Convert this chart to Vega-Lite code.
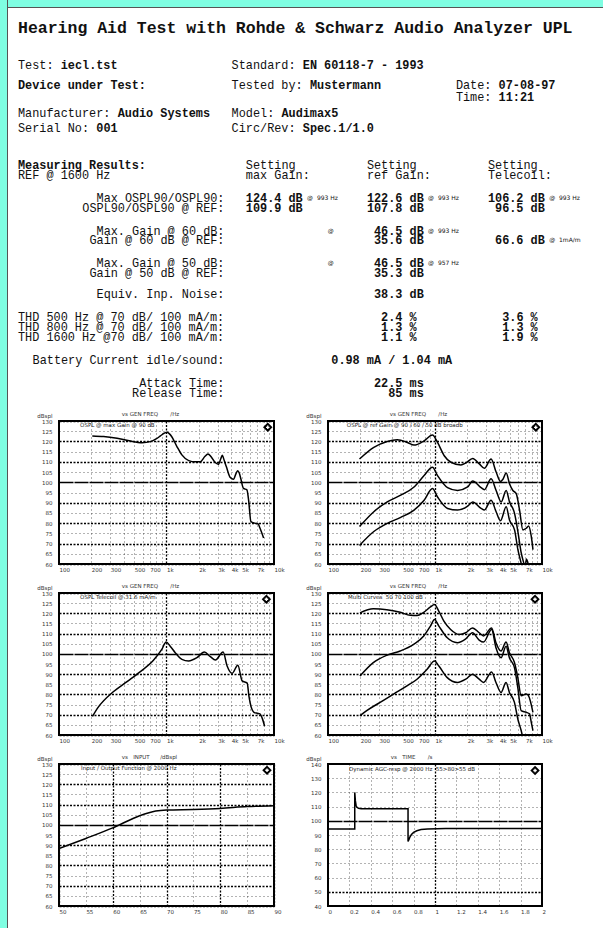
{
  "$schema": "https://vega.github.io/schema/vega-lite/v6.json",
  "background": "white",
  "padding": 0,
  "config": {
    "view": {"stroke": null},
    "axis": {"labelFont": "DejaVu Sans", "labelColor": "#333", "titleFont": "DejaVu Sans", "titleColor": "#333"},
    "title": {"font": "DejaVu Sans", "fontSize": 5.5, "fontWeight": "normal", "color": "#333"}
  },
  "datasets": {
    "report": [
      {"c": 0, "r": 2.8, "t": "Hearing Aid Test with Rohde & Schwarz Audio Analyzer UPL", "k": "heading"},
      {"c": 0, "r": 6.5, "t": "Test:", "k": "label"},
      {"c": 6, "r": 6.5, "t": "iecl.tst", "k": "strong"},
      {"c": 30, "r": 6.5, "t": "Standard:", "k": "label"},
      {"c": 40, "r": 6.5, "t": "EN 60118-7 - 1993", "k": "strong"},
      {"c": 0, "r": 8.5, "t": "Device under Test:", "k": "strong"},
      {"c": 30, "r": 8.5, "t": "Tested by:", "k": "label"},
      {"c": 41, "r": 8.5, "t": "Mustermann", "k": "strong"},
      {"c": 61.5, "r": 8.5, "t": "Date:", "k": "label"},
      {"c": 67.5, "r": 8.5, "t": "07-08-97", "k": "strong"},
      {"c": 61.5, "r": 9.7, "t": "Time:", "k": "label"},
      {"c": 67.5, "r": 9.7, "t": "11:21", "k": "strong"},
      {"c": 0, "r": 11.3, "t": "Manufacturer:", "k": "label"},
      {"c": 14, "r": 11.3, "t": "Audio Systems", "k": "strong"},
      {"c": 30, "r": 11.3, "t": "Model:", "k": "label"},
      {"c": 37, "r": 11.3, "t": "Audimax5", "k": "strong"},
      {"c": 0, "r": 12.8, "t": "Serial No:", "k": "label"},
      {"c": 11, "r": 12.8, "t": "001", "k": "strong"},
      {"c": 30, "r": 12.8, "t": "Circ/Rev:", "k": "label"},
      {"c": 40, "r": 12.8, "t": "Spec.1/1.0", "k": "strong"},
      {"c": 0, "r": 16.5, "t": "Measuring Results:", "k": "strong"},
      {"c": 32, "r": 16.5, "t": "Setting", "k": "label"},
      {"c": 49, "r": 16.5, "t": "Setting", "k": "label"},
      {"c": 66, "r": 16.5, "t": "Setting", "k": "label"},
      {"c": 0, "r": 17.5, "t": "REF @ 1600 Hz", "k": "label"},
      {"c": 32, "r": 17.5, "t": "max Gain:", "k": "label"},
      {"c": 49, "r": 17.5, "t": "ref Gain:", "k": "label"},
      {"c": 66, "r": 17.5, "t": "Telecoil:", "k": "label"},
      {"c": 29, "r": 19.8, "t": "Max OSPL90/OSPL90:", "k": "rlabel"},
      {"c": 32, "r": 19.8, "t": "124.4 dB", "k": "strong"},
      {"c": 40.6, "r": 19.8, "t": "@\u00a0\u00a0993 Hz", "k": "note"},
      {"c": 49, "r": 19.8, "t": "122.6 dB", "k": "strong"},
      {"c": 57.6, "r": 19.8, "t": "@\u00a0\u00a0993 Hz", "k": "note"},
      {"c": 66, "r": 19.8, "t": "106.2 dB", "k": "strong"},
      {"c": 74.6, "r": 19.8, "t": "@\u00a0\u00a0993 Hz", "k": "note"},
      {"c": 29, "r": 20.8, "t": "OSPL90/OSPL90 @ REF:", "k": "rlabel"},
      {"c": 32, "r": 20.8, "t": "109.9 dB", "k": "strong"},
      {"c": 49, "r": 20.8, "t": "107.8 dB", "k": "strong"},
      {"c": 67, "r": 20.8, "t": "96.5 dB", "k": "strong"},
      {"c": 29, "r": 23.1, "t": "Max. Gain @ 60 dB:", "k": "rlabel"},
      {"c": 43.5, "r": 23.1, "t": "@", "k": "note"},
      {"c": 50, "r": 23.1, "t": "46.5 dB", "k": "strong"},
      {"c": 57.6, "r": 23.1, "t": "@\u00a0\u00a0993 Hz", "k": "note"},
      {"c": 29, "r": 24.0, "t": "Gain @ 60 dB @ REF:", "k": "rlabel"},
      {"c": 50, "r": 24.0, "t": "35.6 dB", "k": "strong"},
      {"c": 67, "r": 24.0, "t": "66.6 dB", "k": "strong"},
      {"c": 74.6, "r": 24.0, "t": "@\u00a0\u00a01mA/m", "k": "note"},
      {"c": 29, "r": 26.3, "t": "Max. Gain @ 50 dB:", "k": "rlabel"},
      {"c": 43.5, "r": 26.3, "t": "@", "k": "note"},
      {"c": 50, "r": 26.3, "t": "46.5 dB", "k": "strong"},
      {"c": 57.6, "r": 26.3, "t": "@\u00a0\u00a0957 Hz", "k": "note"},
      {"c": 29, "r": 27.3, "t": "Gain @ 50 dB @ REF:", "k": "rlabel"},
      {"c": 50, "r": 27.3, "t": "35.3 dB", "k": "strong"},
      {"c": 29, "r": 29.4, "t": "Equiv. Inp. Noise:", "k": "rlabel"},
      {"c": 50, "r": 29.4, "t": "38.3 dB", "k": "strong"},
      {"c": 0, "r": 31.7, "t": "THD 500 Hz @ 70 dB/ 100 mA/m:", "k": "label"},
      {"c": 51, "r": 31.7, "t": "2.4 %", "k": "strong"},
      {"c": 68, "r": 31.7, "t": "3.6 %", "k": "strong"},
      {"c": 0, "r": 32.7, "t": "THD 800 Hz @ 70 dB/ 100 mA/m:", "k": "label"},
      {"c": 51, "r": 32.7, "t": "1.3 %", "k": "strong"},
      {"c": 68, "r": 32.7, "t": "1.3 %", "k": "strong"},
      {"c": 0, "r": 33.7, "t": "THD 1600 Hz @70 dB/ 100 mA/m:", "k": "label"},
      {"c": 51, "r": 33.7, "t": "1.1 %", "k": "strong"},
      {"c": 68, "r": 33.7, "t": "1.9 %", "k": "strong"},
      {"c": 29, "r": 36.0, "t": "Battery Current idle/sound:", "k": "rlabel"},
      {"c": 44, "r": 36.0, "t": "0.98 mA / 1.04 mA", "k": "strong"},
      {"c": 29, "r": 38.3, "t": "Attack Time:", "k": "rlabel"},
      {"c": 50, "r": 38.3, "t": "22.5 ms", "k": "strong"},
      {"c": 29, "r": 39.3, "t": "Release Time:", "k": "rlabel"},
      {"c": 52, "r": 39.3, "t": "85 ms", "k": "strong"}
    ],
    "c1": [
      {"f": 204, "v": 122.7, "s": "a"}, {"f": 260, "v": 122.4, "s": "a"}, {"f": 347, "v": 121.5, "s": "a"}, {"f": 450, "v": 120.3, "s": "a"},
      {"f": 593, "v": 119.4, "s": "a"}, {"f": 707, "v": 119.9, "s": "a"}, {"f": 800, "v": 121.2, "s": "a"}, {"f": 877, "v": 122.7, "s": "a"},
      {"f": 950, "v": 124, "s": "a"}, {"f": 1011, "v": 124.5, "s": "a"}, {"f": 1060, "v": 123.8, "s": "a"}, {"f": 1120, "v": 122.3, "s": "a"},
      {"f": 1250, "v": 117.5, "s": "a"}, {"f": 1390, "v": 113.4, "s": "a"}, {"f": 1610, "v": 110.6, "s": "a"}, {"f": 1850, "v": 110, "s": "a"},
      {"f": 2070, "v": 110.1, "s": "a"}, {"f": 2270, "v": 112.6, "s": "a"}, {"f": 2430, "v": 113.9, "s": "a"}, {"f": 2600, "v": 112.5, "s": "a"},
      {"f": 2800, "v": 110, "s": "a"}, {"f": 3030, "v": 108.8, "s": "a"}, {"f": 3200, "v": 111.5, "s": "a"}, {"f": 3300, "v": 113.2, "s": "a"},
      {"f": 3450, "v": 110.5, "s": "a"}, {"f": 3600, "v": 107.7, "s": "a"}, {"f": 3900, "v": 102.5, "s": "a"}, {"f": 4200, "v": 101.5, "s": "a"},
      {"f": 4450, "v": 104.5, "s": "a"}, {"f": 4600, "v": 105.7, "s": "a"}, {"f": 4750, "v": 104.5, "s": "a"}, {"f": 4900, "v": 102, "s": "a"},
      {"f": 5200, "v": 97, "s": "a"}, {"f": 5600, "v": 96.3, "s": "a"}, {"f": 5800, "v": 91.4, "s": "a"}, {"f": 6100, "v": 80.8, "s": "a"},
      {"f": 6600, "v": 80, "s": "a"}, {"f": 7100, "v": 79.7, "s": "a"}, {"f": 7400, "v": 77.6, "s": "a"}, {"f": 8000, "v": 72.7, "s": "a"}
    ],
    "c2": [
      {"f": 197, "v": 111.4, "s": "a"}, {"f": 268, "v": 117.1, "s": "a"}, {"f": 358, "v": 120, "s": "a"}, {"f": 444, "v": 120.8, "s": "a"},
      {"f": 552, "v": 119.5, "s": "a"}, {"f": 637, "v": 118.2, "s": "a"}, {"f": 791, "v": 120.3, "s": "a"}, {"f": 947, "v": 123.1, "s": "a"},
      {"f": 1056, "v": 119.5, "s": "a"}, {"f": 1220, "v": 113, "s": "a"}, {"f": 1408, "v": 109.8, "s": "a"}, {"f": 1748, "v": 108.5, "s": "a"},
      {"f": 1948, "v": 109.5, "s": "a"}, {"f": 2250, "v": 111.7, "s": "a"}, {"f": 2598, "v": 109, "s": "a"}, {"f": 2895, "v": 106.9, "s": "a"},
      {"f": 3344, "v": 111.4, "s": "a"}, {"f": 3726, "v": 105, "s": "a"}, {"f": 4093, "v": 100.4, "s": "a"}, {"f": 4303, "v": 101.4, "s": "a"},
      {"f": 4626, "v": 104.5, "s": "a"}, {"f": 4970, "v": 99.3, "s": "a"}, {"f": 5342, "v": 96, "s": "a"}, {"f": 5741, "v": 94.5, "s": "a"},
      {"f": 6170, "v": 86.4, "s": "a"}, {"f": 6630, "v": 76.7, "s": "a"}, {"f": 7128, "v": 77.5, "s": "a"}, {"f": 7494, "v": 78.6, "s": "a"},
      {"f": 7940, "v": 73.5, "s": "a"}, {"f": 8233, "v": 67, "s": "a"},
      {"f": 197, "v": 78.3, "s": "b"}, {"f": 268, "v": 85.6, "s": "b"}, {"f": 358, "v": 90.4, "s": "b"}, {"f": 478, "v": 93.7, "s": "b"},
      {"f": 637, "v": 97.7, "s": "b"}, {"f": 791, "v": 103.3, "s": "b"}, {"f": 947, "v": 107.4, "s": "b"}, {"f": 1056, "v": 103.3, "s": "b"},
      {"f": 1310, "v": 97.4, "s": "b"}, {"f": 1627, "v": 96, "s": "b"}, {"f": 2020, "v": 97.7, "s": "b"}, {"f": 2250, "v": 100.6, "s": "b"},
      {"f": 2695, "v": 97.4, "s": "b"}, {"f": 2895, "v": 96.4, "s": "b"}, {"f": 3344, "v": 101.7, "s": "b"}, {"f": 3726, "v": 96, "s": "b"},
      {"f": 4152, "v": 90.4, "s": "b"}, {"f": 4626, "v": 96, "s": "b"}, {"f": 4970, "v": 90.4, "s": "b"}, {"f": 5538, "v": 84.8, "s": "b"},
      {"f": 5952, "v": 75.9, "s": "b"}, {"f": 6397, "v": 65.4, "s": "b"}, {"f": 6776, "v": 60.2, "s": "b"}, {"f": 6950, "v": 58, "s": "b"},
      {"f": 7150, "v": 62.5, "s": "b"}, {"f": 7350, "v": 61, "s": "b"}, {"f": 7550, "v": 58, "s": "b"},
      {"f": 197, "v": 69.1, "s": "c"}, {"f": 268, "v": 75.9, "s": "c"}, {"f": 358, "v": 79.9, "s": "c"}, {"f": 478, "v": 82.8, "s": "c"},
      {"f": 637, "v": 86.4, "s": "c"}, {"f": 791, "v": 91.2, "s": "c"}, {"f": 947, "v": 96.9, "s": "c"}, {"f": 1056, "v": 92.8, "s": "c"},
      {"f": 1310, "v": 87.2, "s": "c"}, {"f": 1627, "v": 86.4, "s": "c"}, {"f": 2020, "v": 88.3, "s": "c"}, {"f": 2250, "v": 90.4, "s": "c"},
      {"f": 2695, "v": 87.2, "s": "c"}, {"f": 2895, "v": 86.4, "s": "c"}, {"f": 3344, "v": 91.2, "s": "c"}, {"f": 3726, "v": 85.6, "s": "c"},
      {"f": 4093, "v": 81.2, "s": "c"}, {"f": 4626, "v": 88, "s": "c"}, {"f": 4970, "v": 81.5, "s": "c"}, {"f": 5538, "v": 76.7, "s": "c"},
      {"f": 5952, "v": 67, "s": "c"}, {"f": 6397, "v": 60.2, "s": "c"}, {"f": 6600, "v": 57, "s": "c"}
    ],
    "c3": [
      {"f": 205, "v": 69.2, "s": "a"}, {"f": 231, "v": 73.6, "s": "a"}, {"f": 320, "v": 81.3, "s": "a"}, {"f": 426, "v": 86.2, "s": "a"},
      {"f": 567, "v": 91.1, "s": "a"}, {"f": 756, "v": 96.8, "s": "a"}, {"f": 904, "v": 102.2, "s": "a"}, {"f": 993, "v": 105.8, "s": "a"},
      {"f": 1082, "v": 103.8, "s": "a"}, {"f": 1205, "v": 100.6, "s": "a"}, {"f": 1391, "v": 97.3, "s": "a"}, {"f": 1605, "v": 96.5, "s": "a"},
      {"f": 1920, "v": 98.1, "s": "a"}, {"f": 2249, "v": 100.9, "s": "a"}, {"f": 2559, "v": 98.6, "s": "a"}, {"f": 2850, "v": 97, "s": "a"},
      {"f": 3361, "v": 100.9, "s": "a"}, {"f": 3664, "v": 94, "s": "a"}, {"f": 4079, "v": 90.4, "s": "a"}, {"f": 4608, "v": 94.4, "s": "a"},
      {"f": 5058, "v": 86.7, "s": "a"}, {"f": 5633, "v": 85.6, "s": "a"}, {"f": 5839, "v": 79.3, "s": "a"}, {"f": 6503, "v": 71.2, "s": "a"},
      {"f": 6986, "v": 70.7, "s": "a"}, {"f": 7400, "v": 70.4, "s": "a"}, {"f": 7780, "v": 68.2, "s": "a"}, {"f": 8180, "v": 64.3, "s": "a"}
    ],
    "c4": [
      {"f": 199, "v": 120.2, "s": "a"}, {"f": 265, "v": 122.2, "s": "a"}, {"f": 354, "v": 121.8, "s": "a"}, {"f": 473, "v": 120.5, "s": "a"},
      {"f": 588, "v": 119, "s": "a"}, {"f": 679, "v": 118.9, "s": "a"}, {"f": 785, "v": 120.5, "s": "a"}, {"f": 907, "v": 123.1, "s": "a"},
      {"f": 989, "v": 124.3, "s": "a"}, {"f": 1087, "v": 121, "s": "a"}, {"f": 1211, "v": 116.1, "s": "a"}, {"f": 1400, "v": 112, "s": "a"},
      {"f": 1677, "v": 109.6, "s": "a"}, {"f": 1938, "v": 110.4, "s": "a"}, {"f": 2239, "v": 112.8, "s": "a"}, {"f": 2587, "v": 110.4, "s": "a"},
      {"f": 2842, "v": 108.8, "s": "a"}, {"f": 3381, "v": 112.8, "s": "a"}, {"f": 3714, "v": 105.5, "s": "a"}, {"f": 4140, "v": 101.4, "s": "a"},
      {"f": 4614, "v": 105.8, "s": "a"}, {"f": 4959, "v": 100.6, "s": "a"}, {"f": 5527, "v": 95.7, "s": "a"}, {"f": 5941, "v": 88.3, "s": "a"},
      {"f": 6386, "v": 79.3, "s": "a"}, {"f": 7118, "v": 80.2, "s": "a"}, {"f": 7487, "v": 79.3, "s": "a"}, {"f": 8228, "v": 71.2, "s": "a"},
      {"f": 199, "v": 89.1, "s": "b"}, {"f": 265, "v": 95.7, "s": "b"}, {"f": 354, "v": 99.3, "s": "b"}, {"f": 473, "v": 101.4, "s": "b"},
      {"f": 632, "v": 104.7, "s": "b"}, {"f": 785, "v": 108.8, "s": "b"}, {"f": 907, "v": 113.7, "s": "b"}, {"f": 989, "v": 116.9, "s": "b"},
      {"f": 1087, "v": 113.7, "s": "b"}, {"f": 1302, "v": 107.9, "s": "b"}, {"f": 1618, "v": 105.5, "s": "b"}, {"f": 1938, "v": 107.4, "s": "b"},
      {"f": 2239, "v": 110.4, "s": "b"}, {"f": 2587, "v": 106.8, "s": "b"}, {"f": 2842, "v": 105.8, "s": "b"}, {"f": 3381, "v": 112, "s": "b"},
      {"f": 3714, "v": 103, "s": "b"}, {"f": 4140, "v": 98.1, "s": "b"}, {"f": 4614, "v": 103.8, "s": "b"}, {"f": 4959, "v": 98.1, "s": "b"},
      {"f": 5527, "v": 93.2, "s": "b"}, {"f": 5941, "v": 83.4, "s": "b"}, {"f": 6386, "v": 72, "s": "b"}, {"f": 7118, "v": 71.2, "s": "b"},
      {"f": 7652, "v": 70.4, "s": "b"}, {"f": 7934, "v": 66.3, "s": "b"}, {"f": 8228, "v": 62.2, "s": "b"},
      {"f": 199, "v": 69.5, "s": "c"}, {"f": 230, "v": 72, "s": "c"}, {"f": 307, "v": 76.1, "s": "c"}, {"f": 410, "v": 80.2, "s": "c"},
      {"f": 547, "v": 84.2, "s": "c"}, {"f": 679, "v": 87.5, "s": "c"}, {"f": 844, "v": 92.4, "s": "c"}, {"f": 989, "v": 96.5, "s": "c"},
      {"f": 1087, "v": 94, "s": "c"}, {"f": 1302, "v": 88.3, "s": "c"}, {"f": 1618, "v": 85.9, "s": "c"}, {"f": 1938, "v": 87.5, "s": "c"},
      {"f": 2239, "v": 90, "s": "c"}, {"f": 2587, "v": 87.5, "s": "c"}, {"f": 2842, "v": 85.9, "s": "c"}, {"f": 3381, "v": 91.1, "s": "c"},
      {"f": 3714, "v": 85.9, "s": "c"}, {"f": 4140, "v": 81, "s": "c"}, {"f": 4614, "v": 85.9, "s": "c"}, {"f": 4959, "v": 81, "s": "c"},
      {"f": 5527, "v": 76.1, "s": "c"}, {"f": 5941, "v": 67.9, "s": "c"}, {"f": 6386, "v": 62.2, "s": "c"}, {"f": 6600, "v": 59, "s": "c"}
    ],
    "c5": [
      {"f": 50, "v": 88.3}, {"f": 55, "v": 93.3}, {"f": 60, "v": 98.5}, {"f": 65, "v": 104.5}, {"f": 68, "v": 106.8},
      {"f": 70, "v": 107.3}, {"f": 75, "v": 107.6}, {"f": 80, "v": 108.1}, {"f": 85, "v": 109}, {"f": 90, "v": 109.4}
    ],
    "c6": [
      {"f": 0, "v": 94.3}, {"f": 0.25, "v": 94.3}, {"f": 0.25, "v": 120}, {"f": 0.256, "v": 114}, {"f": 0.262, "v": 111},
      {"f": 0.27, "v": 109.5}, {"f": 0.285, "v": 108.8}, {"f": 0.31, "v": 108.5}, {"f": 0.748, "v": 108.5}, {"f": 0.748, "v": 85.5},
      {"f": 0.755, "v": 86.5}, {"f": 0.765, "v": 88.5}, {"f": 0.78, "v": 90.3}, {"f": 0.8, "v": 91.8}, {"f": 0.83, "v": 93},
      {"f": 0.87, "v": 93.8}, {"f": 0.93, "v": 94.2}, {"f": 1.1, "v": 94.5}, {"f": 2, "v": 94.5}
    ]
  },
  "spacing": 0,
  "hconcat": [
    {
      "spacing": 0,
      "hconcat": [
        {"width": 7, "height": 928, "view": {"fill": "#7ffee2", "stroke": null}, "data": {"values": []}, "mark": "point", "encoding": {}},
        {"width": 1, "height": 928, "view": {"fill": "#555555", "stroke": null}, "data": {"values": []}, "mark": "point", "encoding": {}}
      ]
    },
    {
      "spacing": 0,
      "vconcat": [
        {
          "spacing": 0,
          "vconcat": [
            {"width": 595, "height": 7, "view": {"fill": "#7ffee2", "stroke": null}, "data": {"values": []}, "mark": "point", "encoding": {}},
            {"width": 595, "height": 1, "view": {"fill": "#555555", "stroke": null}, "data": {"values": []}, "mark": "point", "encoding": {}}
          ]
        },
        {
          "columns": 2,
          "spacing": {"row": 29, "column": 3},
          "bounds": "flush",
          "center": true,
          "concat": [
            {
              "width": 317, "height": 384,
              "view": {"fill": "white", "stroke": null},
              "data": {"name": "report"},
              "encoding": {
                "x": {"field": "c", "type": "quantitative", "scale": {"domain": [-1.404, 43.118], "nice": false, "zero": false}, "axis": null},
                "y": {"field": "r", "type": "quantitative", "scale": {"domain": [0.8, 39.2], "nice": false, "zero": false, "reverse": true}, "axis": null},
                "text": {"field": "t"}
              },
              "layer": [
                {"transform": [{"filter": "datum.k === 'heading'"}], "mark": {"type": "text", "align": "left", "baseline": "middle", "font": "Liberation Mono", "fontSize": 16.5, "fontWeight": "bold", "color": "#111"}},
                {"transform": [{"filter": "datum.k === 'label'"}], "mark": {"type": "text", "align": "left", "baseline": "middle", "font": "Liberation Mono", "fontSize": 11.85, "fontWeight": "normal", "color": "#111"}},
                {"transform": [{"filter": "datum.k === 'strong'"}], "mark": {"type": "text", "align": "left", "baseline": "middle", "font": "Liberation Mono", "fontSize": 11.85, "fontWeight": "bold", "color": "#111"}},
                {"transform": [{"filter": "datum.k === 'rlabel'"}], "mark": {"type": "text", "align": "right", "baseline": "middle", "font": "Liberation Mono", "fontSize": 11.85, "fontWeight": "normal", "color": "#111"}},
                {"transform": [{"filter": "datum.k === 'note'"}], "mark": {"type": "text", "align": "left", "baseline": "middle", "font": "DejaVu Sans", "fontSize": 6, "fontWeight": "normal", "color": "#111"}}
              ]
            },
            {"width": 214, "height": 384, "data": {"values": []}, "mark": "point", "encoding": {}},
            {
              "width": 215, "height": 143,
              "view": {"stroke": "#000", "strokeWidth": 2},
              "title": {"text": "vs GEN FREQ\u00a0\u00a0\u00a0\u00a0\u00a0\u00a0\u00a0/Hz", "anchor": "start", "dx": 85, "offset": -4},
              "resolve": {"axis": {"x": "independent", "y": "independent"}},
              "layer": [
                {
                  "data": {"name": "c1"},
                  "mark": {"type": "line", "color": "#000", "strokeWidth": 1.5, "interpolate": "monotone", "clip": true},
                  "encoding": {
                    "x": {"field": "f", "type": "quantitative", "scale": {"type": "log", "domain": [100, 10000], "nice": false},
                      "axis": {"values": [100, 200, 300, 400, 500, 600, 700, 800, 900, 1000, 2000, 3000, 4000, 5000, 6000, 7000, 8000, 9000, 10000],
                        "labelExpr": "indexof([100,200,300,500,700,1000,2000,3000,4000,5000,7000,10000], datum.value) >= 0 ? (datum.value >= 1000 ? (datum.value / 1000) + 'k' : '' + datum.value) : ''",
                        "title": null, "grid": true, "ticks": false, "domain": false, "labelAlign": "left", "labelFlush": false, "labelOverlap": false, "labelPadding": 3, "labelFontSize": 5.5,
                        "gridColor": "#000", "gridOpacity": 1,
                        "gridDash": {"condition": {"test": "datum.value === 1000", "value": [2, 1.5]}, "value": [1, 3]},
                        "gridWidth": {"condition": {"test": "datum.value === 1000", "value": 1.3}, "value": 0.6}}},
                    "y": {"field": "v", "type": "quantitative", "scale": {"domain": [60, 130], "nice": false, "zero": false},
                      "axis": {"values": [60, 65, 70, 75, 80, 85, 90, 95, 100, 105, 110, 115, 120, 125, 130],
                        "title": "dBspl", "titleAngle": 0, "titleAlign": "right", "titleBaseline": "middle", "titleX": -7, "titleY": -6, "titleFontSize": 5.5, "titleFontWeight": "normal",
                        "grid": true, "ticks": false, "domain": false, "labelPadding": 7, "labelFontSize": 5.5, "labelFlush": false, "labelOverlap": false,
                        "gridColor": "#000", "gridOpacity": 1,
                        "gridDash": {"condition": [{"test": "datum.value === 100", "value": [14, 1]}, {"test": "datum.value % 10 === 0", "value": [2, 1.5]}], "value": [1, 3]},
                        "gridWidth": {"condition": [{"test": "datum.value === 100", "value": 1.6}, {"test": "datum.value % 10 === 0", "value": 1.3}], "value": 0.6}}},
                    "detail": {"field": "s"}
                  }
                },
                {"data": {"values": [{}]}, "mark": {"type": "text", "align": "left", "baseline": "middle", "fontSize": 5.5, "font": "DejaVu Sans", "color": "#222"},
                  "encoding": {"x": {"datum": 157, "axis": null}, "y": {"datum": 127.8, "axis": null}, "text": {"value": "OSPL @ max Gain @ 90 dB"}}},
                {"data": {"values": [{}]}, "mark": {"type": "point", "shape": "diamond", "filled": true, "color": "#000", "size": 90, "opacity": 1},
                  "encoding": {"x": {"datum": 8750, "axis": null}, "y": {"datum": 126.9, "axis": null}}},
                {"data": {"values": [{}]}, "mark": {"type": "point", "shape": "cross", "filled": true, "color": "#fff", "size": 12, "opacity": 1},
                  "encoding": {"x": {"datum": 8750, "axis": null}, "y": {"datum": 126.9, "axis": null}}}
              ]
            },
            {
              "width": 214, "height": 143,
              "view": {"stroke": "#000", "strokeWidth": 2},
              "title": {"text": "vs GEN FREQ\u00a0\u00a0\u00a0\u00a0\u00a0\u00a0\u00a0/Hz", "anchor": "start", "dx": 84, "offset": -4},
              "resolve": {"axis": {"x": "independent", "y": "independent"}},
              "layer": [
                {
                  "data": {"name": "c2"},
                  "mark": {"type": "line", "color": "#000", "strokeWidth": 1.5, "interpolate": "monotone", "clip": true},
                  "encoding": {
                    "x": {"field": "f", "type": "quantitative", "scale": {"type": "log", "domain": [100, 10000], "nice": false},
                      "axis": {"values": [100, 200, 300, 400, 500, 600, 700, 800, 900, 1000, 2000, 3000, 4000, 5000, 6000, 7000, 8000, 9000, 10000],
                        "labelExpr": "indexof([100,200,300,500,700,1000,2000,3000,4000,5000,7000,10000], datum.value) >= 0 ? (datum.value >= 1000 ? (datum.value / 1000) + 'k' : '' + datum.value) : ''",
                        "title": null, "grid": true, "ticks": false, "domain": false, "labelAlign": "left", "labelFlush": false, "labelOverlap": false, "labelPadding": 3, "labelFontSize": 5.5,
                        "gridColor": "#000", "gridOpacity": 1,
                        "gridDash": {"condition": {"test": "datum.value === 1000", "value": [2, 1.5]}, "value": [1, 3]},
                        "gridWidth": {"condition": {"test": "datum.value === 1000", "value": 1.3}, "value": 0.6}}},
                    "y": {"field": "v", "type": "quantitative", "scale": {"domain": [60, 130], "nice": false, "zero": false},
                      "axis": {"values": [60, 65, 70, 75, 80, 85, 90, 95, 100, 105, 110, 115, 120, 125, 130],
                        "title": "dBspl", "titleAngle": 0, "titleAlign": "right", "titleBaseline": "middle", "titleX": -7, "titleY": -6, "titleFontSize": 5.5, "titleFontWeight": "normal",
                        "grid": true, "ticks": false, "domain": false, "labelPadding": 7, "labelFontSize": 5.5, "labelFlush": false, "labelOverlap": false,
                        "gridColor": "#000", "gridOpacity": 1,
                        "gridDash": {"condition": [{"test": "datum.value === 100", "value": [14, 1]}, {"test": "datum.value % 10 === 0", "value": [2, 1.5]}], "value": [1, 3]},
                        "gridWidth": {"condition": [{"test": "datum.value === 100", "value": 1.6}, {"test": "datum.value % 10 === 0", "value": 1.3}], "value": 0.6}}},
                    "detail": {"field": "s"}
                  }
                },
                {"data": {"values": [{}]}, "mark": {"type": "text", "align": "left", "baseline": "middle", "fontSize": 5.5, "font": "DejaVu Sans", "color": "#222"},
                  "encoding": {"x": {"datum": 150, "axis": null}, "y": {"datum": 127.8, "axis": null}, "text": {"value": "OSPL @ ref Gain @ 90 / 60 / 50 dB broadb"}}},
                {"data": {"values": [{}]}, "mark": {"type": "point", "shape": "diamond", "filled": true, "color": "#000", "size": 90, "opacity": 1},
                  "encoding": {"x": {"datum": 8750, "axis": null}, "y": {"datum": 126.9, "axis": null}}},
                {"data": {"values": [{}]}, "mark": {"type": "point", "shape": "cross", "filled": true, "color": "#fff", "size": 12, "opacity": 1},
                  "encoding": {"x": {"datum": 8750, "axis": null}, "y": {"datum": 126.9, "axis": null}}}
              ]
            },
            {
              "width": 215, "height": 142,
              "view": {"stroke": "#000", "strokeWidth": 2},
              "title": {"text": "vs GEN FREQ\u00a0\u00a0\u00a0\u00a0\u00a0\u00a0\u00a0/Hz", "anchor": "start", "dx": 85, "offset": -4},
              "resolve": {"axis": {"x": "independent", "y": "independent"}},
              "layer": [
                {
                  "data": {"name": "c3"},
                  "mark": {"type": "line", "color": "#000", "strokeWidth": 1.5, "interpolate": "monotone", "clip": true},
                  "encoding": {
                    "x": {"field": "f", "type": "quantitative", "scale": {"type": "log", "domain": [100, 10000], "nice": false},
                      "axis": {"values": [100, 200, 300, 400, 500, 600, 700, 800, 900, 1000, 2000, 3000, 4000, 5000, 6000, 7000, 8000, 9000, 10000],
                        "labelExpr": "indexof([100,200,300,500,700,1000,2000,3000,4000,5000,7000,10000], datum.value) >= 0 ? (datum.value >= 1000 ? (datum.value / 1000) + 'k' : '' + datum.value) : ''",
                        "title": null, "grid": true, "ticks": false, "domain": false, "labelAlign": "left", "labelFlush": false, "labelOverlap": false, "labelPadding": 3, "labelFontSize": 5.5,
                        "gridColor": "#000", "gridOpacity": 1,
                        "gridDash": {"condition": {"test": "datum.value === 1000", "value": [2, 1.5]}, "value": [1, 3]},
                        "gridWidth": {"condition": {"test": "datum.value === 1000", "value": 1.3}, "value": 0.6}}},
                    "y": {"field": "v", "type": "quantitative", "scale": {"domain": [60, 130], "nice": false, "zero": false},
                      "axis": {"values": [60, 65, 70, 75, 80, 85, 90, 95, 100, 105, 110, 115, 120, 125, 130],
                        "title": "dBspl", "titleAngle": 0, "titleAlign": "right", "titleBaseline": "middle", "titleX": -7, "titleY": -6, "titleFontSize": 5.5, "titleFontWeight": "normal",
                        "grid": true, "ticks": false, "domain": false, "labelPadding": 7, "labelFontSize": 5.5, "labelFlush": false, "labelOverlap": false,
                        "gridColor": "#000", "gridOpacity": 1,
                        "gridDash": {"condition": [{"test": "datum.value === 100", "value": [14, 1]}, {"test": "datum.value % 10 === 0", "value": [2, 1.5]}], "value": [1, 3]},
                        "gridWidth": {"condition": [{"test": "datum.value === 100", "value": 1.6}, {"test": "datum.value % 10 === 0", "value": 1.3}], "value": 0.6}}},
                    "detail": {"field": "s"}
                  }
                },
                {"data": {"values": [{}]}, "mark": {"type": "text", "align": "left", "baseline": "middle", "fontSize": 5.5, "font": "DejaVu Sans", "color": "#222"},
                  "encoding": {"x": {"datum": 157, "axis": null}, "y": {"datum": 127.8, "axis": null}, "text": {"value": "OSPL Telecoil @ 31.6 mA/m"}}},
                {"data": {"values": [{}]}, "mark": {"type": "point", "shape": "diamond", "filled": true, "color": "#000", "size": 90, "opacity": 1},
                  "encoding": {"x": {"datum": 8500, "axis": null}, "y": {"datum": 126.9, "axis": null}}},
                {"data": {"values": [{}]}, "mark": {"type": "point", "shape": "cross", "filled": true, "color": "#fff", "size": 12, "opacity": 1},
                  "encoding": {"x": {"datum": 8500, "axis": null}, "y": {"datum": 126.9, "axis": null}}}
              ]
            },
            {
              "width": 214, "height": 142,
              "view": {"stroke": "#000", "strokeWidth": 2},
              "title": {"text": "vs GEN FREQ\u00a0\u00a0\u00a0\u00a0\u00a0\u00a0\u00a0/Hz", "anchor": "start", "dx": 84, "offset": -4},
              "resolve": {"axis": {"x": "independent", "y": "independent"}},
              "layer": [
                {
                  "data": {"name": "c4"},
                  "mark": {"type": "line", "color": "#000", "strokeWidth": 1.5, "interpolate": "monotone", "clip": true},
                  "encoding": {
                    "x": {"field": "f", "type": "quantitative", "scale": {"type": "log", "domain": [100, 10000], "nice": false},
                      "axis": {"values": [100, 200, 300, 400, 500, 600, 700, 800, 900, 1000, 2000, 3000, 4000, 5000, 6000, 7000, 8000, 9000, 10000],
                        "labelExpr": "indexof([100,200,300,500,700,1000,2000,3000,4000,5000,7000,10000], datum.value) >= 0 ? (datum.value >= 1000 ? (datum.value / 1000) + 'k' : '' + datum.value) : ''",
                        "title": null, "grid": true, "ticks": false, "domain": false, "labelAlign": "left", "labelFlush": false, "labelOverlap": false, "labelPadding": 3, "labelFontSize": 5.5,
                        "gridColor": "#000", "gridOpacity": 1,
                        "gridDash": {"condition": {"test": "datum.value === 1000", "value": [2, 1.5]}, "value": [1, 3]},
                        "gridWidth": {"condition": {"test": "datum.value === 1000", "value": 1.3}, "value": 0.6}}},
                    "y": {"field": "v", "type": "quantitative", "scale": {"domain": [60, 130], "nice": false, "zero": false},
                      "axis": {"values": [60, 65, 70, 75, 80, 85, 90, 95, 100, 105, 110, 115, 120, 125, 130],
                        "title": "dBspl", "titleAngle": 0, "titleAlign": "right", "titleBaseline": "middle", "titleX": -7, "titleY": -6, "titleFontSize": 5.5, "titleFontWeight": "normal",
                        "grid": true, "ticks": false, "domain": false, "labelPadding": 7, "labelFontSize": 5.5, "labelFlush": false, "labelOverlap": false,
                        "gridColor": "#000", "gridOpacity": 1,
                        "gridDash": {"condition": [{"test": "datum.value === 100", "value": [14, 1]}, {"test": "datum.value % 10 === 0", "value": [2, 1.5]}], "value": [1, 3]},
                        "gridWidth": {"condition": [{"test": "datum.value === 100", "value": 1.6}, {"test": "datum.value % 10 === 0", "value": 1.3}], "value": 0.6}}},
                    "detail": {"field": "s"}
                  }
                },
                {"data": {"values": [{}]}, "mark": {"type": "text", "align": "left", "baseline": "middle", "fontSize": 5.5, "font": "DejaVu Sans", "color": "#222"},
                  "encoding": {"x": {"datum": 154, "axis": null}, "y": {"datum": 127.8, "axis": null}, "text": {"value": "Multi Curves\u00a0\u00a050 70 100 dB"}}},
                {"data": {"values": [{}]}, "mark": {"type": "point", "shape": "diamond", "filled": true, "color": "#000", "size": 90, "opacity": 1},
                  "encoding": {"x": {"datum": 8600, "axis": null}, "y": {"datum": 126.9, "axis": null}}},
                {"data": {"values": [{}]}, "mark": {"type": "point", "shape": "cross", "filled": true, "color": "#fff", "size": 12, "opacity": 1},
                  "encoding": {"x": {"datum": 8600, "axis": null}, "y": {"datum": 126.9, "axis": null}}}
              ]
            },
            {
              "width": 215, "height": 142,
              "view": {"stroke": "#000", "strokeWidth": 2},
              "title": {"text": "vs\u00a0\u00a0\u00a0INPUT\u00a0\u00a0\u00a0\u00a0\u00a0\u00a0/dBspl", "anchor": "start", "dx": 85, "offset": -4},
              "resolve": {"axis": {"x": "independent", "y": "independent"}},
              "layer": [
                {
                  "data": {"name": "c5"},
                  "mark": {"type": "line", "color": "#000", "strokeWidth": 1.5, "interpolate": "monotone", "clip": true},
                  "encoding": {
                    "x": {"field": "f", "type": "quantitative", "scale": {"domain": [50, 90], "nice": false, "zero": false},
                      "axis": {"values": [50, 55, 60, 65, 70, 75, 80, 85, 90],
                        "title": null, "grid": true, "ticks": false, "domain": false, "labelAlign": "left", "labelFlush": false, "labelOverlap": false, "labelPadding": 3, "labelFontSize": 5.5,
                        "gridColor": "#000", "gridOpacity": 1,
                        "gridDash": {"condition": {"test": "datum.value % 10 === 0", "value": [2, 1.5]}, "value": [1, 3]},
                        "gridWidth": {"condition": {"test": "datum.value % 10 === 0", "value": 1.3}, "value": 0.6}}},
                    "y": {"field": "v", "type": "quantitative", "scale": {"domain": [60, 130], "nice": false, "zero": false},
                      "axis": {"values": [60, 65, 70, 75, 80, 85, 90, 95, 100, 105, 110, 115, 120, 125, 130],
                        "title": "dBspl", "titleAngle": 0, "titleAlign": "right", "titleBaseline": "middle", "titleX": -7, "titleY": -6, "titleFontSize": 5.5, "titleFontWeight": "normal",
                        "grid": true, "ticks": false, "domain": false, "labelPadding": 7, "labelFontSize": 5.5, "labelFlush": false, "labelOverlap": false,
                        "gridColor": "#000", "gridOpacity": 1,
                        "gridDash": {"condition": [{"test": "datum.value === 100", "value": [14, 1]}, {"test": "datum.value % 10 === 0", "value": [2, 1.5]}], "value": [1, 3]},
                        "gridWidth": {"condition": [{"test": "datum.value === 100", "value": 1.6}, {"test": "datum.value % 10 === 0", "value": 1.3}], "value": 0.6}}}
                  }
                },
                {"data": {"values": [{}]}, "mark": {"type": "text", "align": "left", "baseline": "middle", "fontSize": 5.5, "font": "DejaVu Sans", "color": "#222"},
                  "encoding": {"x": {"datum": 54.1, "axis": null}, "y": {"datum": 127.8, "axis": null}, "text": {"value": "Input / Output Function @ 2000 Hz"}}},
                {"data": {"values": [{}]}, "mark": {"type": "point", "shape": "diamond", "filled": true, "color": "#000", "size": 90, "opacity": 1},
                  "encoding": {"x": {"datum": 88.7, "axis": null}, "y": {"datum": 126.9, "axis": null}}},
                {"data": {"values": [{}]}, "mark": {"type": "point", "shape": "cross", "filled": true, "color": "#fff", "size": 12, "opacity": 1},
                  "encoding": {"x": {"datum": 88.7, "axis": null}, "y": {"datum": 126.9, "axis": null}}}
              ]
            },
            {
              "width": 214, "height": 142,
              "view": {"stroke": "#000", "strokeWidth": 2},
              "title": {"text": "vs\u00a0\u00a0\u00a0TIME\u00a0\u00a0\u00a0\u00a0\u00a0\u00a0\u00a0/s", "anchor": "start", "dx": 85, "offset": -4},
              "resolve": {"axis": {"x": "independent", "y": "independent"}},
              "layer": [
                {
                  "data": {"name": "c6"},
                  "mark": {"type": "line", "color": "#000", "strokeWidth": 1.5, "clip": true},
                  "encoding": {
                    "x": {"field": "f", "type": "quantitative", "scale": {"domain": [0, 2], "nice": false, "zero": false},
                      "axis": {"values": [0, 0.2, 0.4, 0.6, 0.8, 1, 1.2, 1.4, 1.6, 1.8, 2], "format": "~g",
                        "title": null, "grid": true, "ticks": false, "domain": false, "labelAlign": "left", "labelFlush": false, "labelOverlap": false, "labelPadding": 3, "labelFontSize": 5.5,
                        "gridColor": "#000", "gridOpacity": 1,
                        "gridDash": {"condition": {"test": "datum.value === 1", "value": [2, 1.5]}, "value": [1, 3]},
                        "gridWidth": {"condition": {"test": "datum.value === 1", "value": 1.3}, "value": 0.6}}},
                    "y": {"field": "v", "type": "quantitative", "scale": {"domain": [40, 140], "nice": false, "zero": false},
                      "axis": {"values": [40, 50, 60, 70, 80, 90, 100, 110, 120, 130, 140],
                        "title": "dBspl", "titleAngle": 0, "titleAlign": "right", "titleBaseline": "middle", "titleX": -7, "titleY": -6, "titleFontSize": 5.5, "titleFontWeight": "normal",
                        "grid": true, "ticks": false, "domain": false, "labelPadding": 7, "labelFontSize": 5.5, "labelFlush": false, "labelOverlap": false,
                        "gridColor": "#000", "gridOpacity": 1,
                        "gridDash": {"condition": [{"test": "datum.value === 100", "value": [14, 1]}, {"test": "datum.value === 50", "value": [2, 1.5]}], "value": [1, 3]},
                        "gridWidth": {"condition": [{"test": "datum.value === 100", "value": 1.6}, {"test": "datum.value === 50", "value": 1.3}], "value": 0.6}}},
                    "order": {"value": null}
                  }
                },
                {"data": {"values": [{}]}, "mark": {"type": "text", "align": "left", "baseline": "middle", "fontSize": 5.5, "font": "DejaVu Sans", "color": "#222"},
                  "encoding": {"x": {"datum": 0.196, "axis": null}, "y": {"datum": 136.8, "axis": null}, "text": {"value": "Dynamic AGC-resp @ 2000 Hz\u00a0\u00a055>80>55 dB"}}},
                {"data": {"values": [{}]}, "mark": {"type": "point", "shape": "diamond", "filled": true, "color": "#000", "size": 90, "opacity": 1},
                  "encoding": {"x": {"datum": 1.935, "axis": null}, "y": {"datum": 135.4, "axis": null}}},
                {"data": {"values": [{}]}, "mark": {"type": "point", "shape": "cross", "filled": true, "color": "#fff", "size": 12, "opacity": 1},
                  "encoding": {"x": {"datum": 1.935, "axis": null}, "y": {"datum": 135.4, "axis": null}}}
              ]
            }
          ]
        }
      ]
    }
  ]
}
